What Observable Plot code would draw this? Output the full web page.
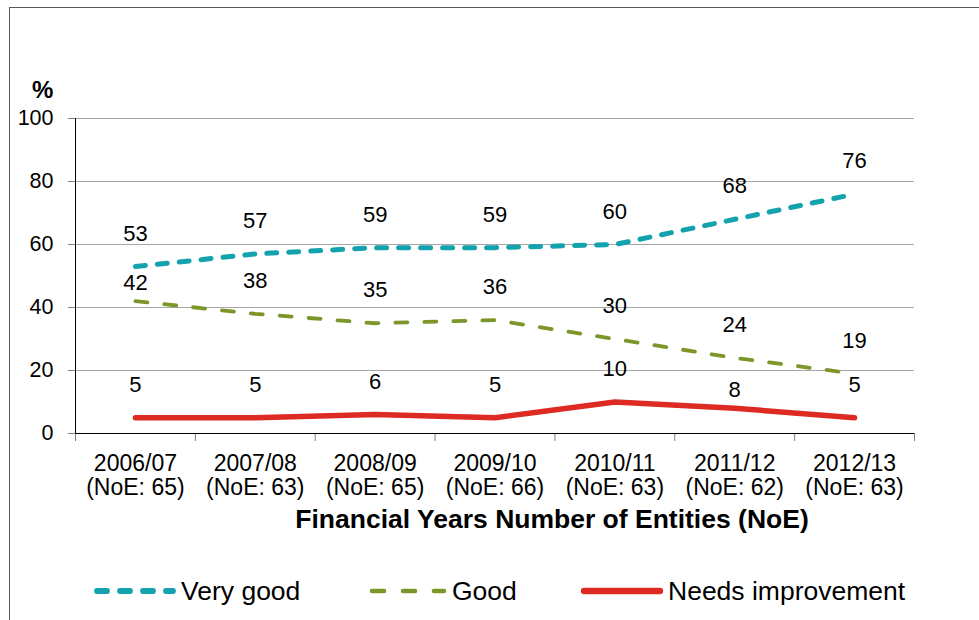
<!DOCTYPE html>
<html>
<head>
<meta charset="utf-8">
<script src="https://cdn.jsdelivr.net/npm/d3@7"></script>
<script src="https://cdn.jsdelivr.net/npm/@observablehq/plot@0.6"></script>
<style>
  html, body { margin: 0; padding: 0; background: #fff; }
  #wrap { position: relative; width: 979px; height: 620px; overflow: hidden; font-family: "Liberation Sans", Arial, sans-serif; color: #000; }
  #frame { position: absolute; left: 9px; top: 7px; width: 980px; height: 640px; border-left: 1px solid #595959; border-top: 1px solid #595959; box-sizing: border-box; pointer-events: none; }
  #chart { position: absolute; left: 0; top: 0; }
  #ylab { position: absolute; left: 32px; top: 76px; font-size: 24px; font-weight: bold; }
  #xtitle { position: absolute; left: 0; width: 1104px; top: 504px; text-align: center; font-size: 26.5px; font-weight: bold; }
  #legend { position: absolute; left: 0; top: 575px; height: 32px; width: 979px; }
  .li { position: absolute; top: 0; display: flex; align-items: center; height: 32px; font-size: 26.5px; }
  .li svg { margin-right: 4px; }
</style>
</head>
<body>
<div id="wrap">
  <div id="chart"></div>
  <div id="ylab">%</div>
  <div id="xtitle">Financial Years Number of Entities (NoE)</div>
  <div id="legend"></div>
  <div id="frame"></div>
</div>
<script>
// ---- data ----
const years = ["2006/07", "2007/08", "2008/09", "2009/10", "2010/11", "2011/12", "2012/13"];
const noe = [65, 63, 65, 66, 63, 62, 63];
const veryGood = [53, 57, 59, 59, 60, 68, 76];
const good = [42, 38, 35, 36, 30, 24, 19];
const needsImprovement = [5, 5, 6, 5, 10, 8, 5];
const seriesNames = ["Very good", "Good", "Needs improvement"];
const yTicks = [0, 20, 40, 60, 80, 100];

// ---- styles ----
const styles = {
  "Very good": { stroke: "#14A3AE", strokeWidth: 5, dash: "10,12", legendDash: "10,13" },
  "Good": { stroke: "#7C9629", strokeWidth: 3.8, dash: "12,17", legendDash: "12,19" },
  "Needs improvement": { stroke: "#DD2A22", strokeWidth: 5.5, dash: null, legendDash: null }
};

const seriesValues = [veryGood, good, needsImprovement];
const rows = [];
seriesNames.forEach((s, k) => {
  seriesValues[k].forEach((v, i) => rows.push({ series: s, i, v }));
});

// labels that sit closer to their point (as in the original chart)
const isNear = d => (d.series === "Good" && d.i === 0) || (d.series === "Needs improvement" && d.i === 5);

const marks = [
  Plot.gridY(yTicks.filter(t => t > 0), { stroke: "#A6A6A6", strokeOpacity: 1, strokeWidth: 1 }),
  Plot.axisY({ ticks: yTicks, tickSize: 7, tickPadding: 15, label: null, fontSize: 21.5, stroke: "#808080" }),
  Plot.axisX({ ticks: d3.range(-0.5, 7, 1), tickSize: 8, tickFormat: () => "", stroke: "#808080", label: null }),
  Plot.axisX({
    ticks: d3.range(0, years.length), tickSize: 0, tickPadding: 20, label: null,
    tickFormat: i => `${years[i]}\n(NoE: ${noe[i]})`, fontSize: 23, lineHeight: 1.05
  }),
  Plot.ruleX([-0.5], { y1: 0, y2: 100, stroke: "#000" }),
  Plot.ruleY([0], { x1: -0.5, x2: 6.5, stroke: "#000" })
];

seriesNames.forEach(s => {
  const st = styles[s];
  marks.push(Plot.line(rows.filter(d => d.series === s), {
    x: "i", y: "v", stroke: st.stroke, strokeWidth: st.strokeWidth,
    strokeDasharray: st.dash || undefined, strokeLinecap: "round", strokeLinejoin: "round"
  }));
});

marks.push(Plot.text(rows.filter(d => !isNear(d)), { x: "i", y: "v", text: d => String(d.v), dy: -33, fontSize: 22, fill: "#000" }));
marks.push(Plot.text(rows.filter(isNear), { x: "i", y: "v", text: d => String(d.v), dy: -18, fontSize: 22, fill: "#000" }));

const chart = Plot.plot({
  width: 979,
  height: 545,
  marginLeft: 75,
  marginRight: 65,
  marginTop: 118,
  marginBottom: 112,
  x: { type: "linear", domain: [-0.5, 6.5] },
  y: { domain: [0, 100] },
  style: { fontFamily: "'Liberation Sans', Arial, sans-serif", fontSize: "20px", color: "#000", background: "transparent" },
  marks
});
document.getElementById("chart").appendChild(chart);

// ---- legend ----
const legendPos = { "Very good": 93, "Good": 368, "Needs improvement": 580 };
const legend = document.getElementById("legend");
seriesNames.forEach(s => {
  const st = styles[s];
  const item = document.createElement("div");
  item.className = "li";
  item.style.left = legendPos[s] + "px";
  const w = s === "Good" ? 80 : 84;
  item.innerHTML = `<svg width="${w}" height="12"><line x1="4" y1="6" x2="${w - 4}" y2="6" stroke="${st.stroke}" stroke-width="${st.strokeWidth + 0.8}" stroke-linecap="round" ${st.legendDash ? `stroke-dasharray="${st.legendDash}"` : ""}/></svg><span>${s}</span>`;
  legend.appendChild(item);
});
</script>
</body>
</html>
